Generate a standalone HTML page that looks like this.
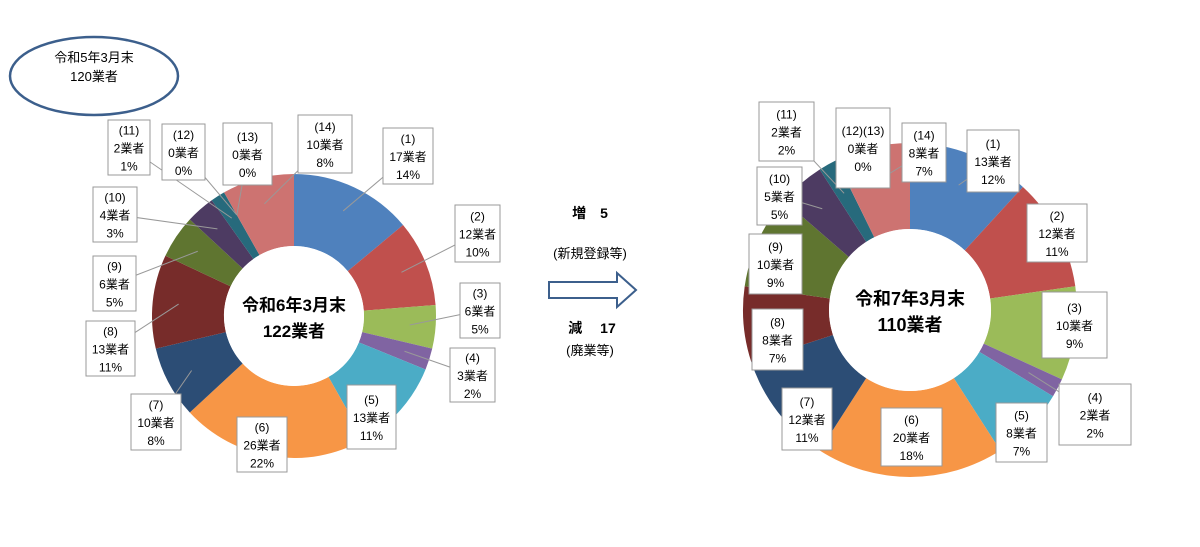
<!DOCTYPE html>
<html><head><meta charset="utf-8">
<style>
body{margin:0;background:#fff;width:1200px;height:542px;overflow:hidden;font-family:"Liberation Sans","Noto Sans CJK JP",sans-serif;}
svg text{font-family:"Liberation Sans","Noto Sans CJK JP",sans-serif;}
</style></head>
<body>
<svg id="s" width="1200" height="542" xmlns="http://www.w3.org/2000/svg">
<ellipse cx="94" cy="76" rx="84" ry="39" fill="#fff" stroke="#3C5F8C" stroke-width="2.5"/>
<text x="94" y="62" font-size="13" text-anchor="middle" fill="#000">令和5年3月末</text>
<text x="94" y="81" font-size="13" text-anchor="middle" fill="#000">120業者</text>
<text x="590" y="218" font-size="14" text-anchor="middle" font-weight="bold">増　5</text>
<text x="590" y="258" font-size="13" text-anchor="middle">(新規登録等)</text>
<path d="M549,282 H617 V273 L636,290 L617,307 V298 H549 Z" fill="#fff" stroke="#3C5F8C" stroke-width="2"/>
<text x="592" y="333" font-size="14" text-anchor="middle" font-weight="bold">減　 17</text>
<text x="590" y="355" font-size="13" text-anchor="middle">(廃業等)</text>
<g id="g"></g>
</svg>
<script>
var cols=["#4F81BD","#C0504D","#9BBB59","#8064A2","#4BACC6","#F79646","#2C4D75","#772C2A","#5F7530","#4D3B62","#276A7C","#C0504D","#4F81BD","#CD7371"];
function donut(cx,cy,R,r,vals,labels,cap1,cap2,fs){
 var tot=vals.reduce((a,b)=>a+b,0),a=-Math.PI/2,out="",mids=[];
 vals.forEach(function(v,i){
  var b=a+v/tot*2*Math.PI;mids.push((a+b)/2);
  if(v>0){var lg=(b-a)>Math.PI?1:0;
  var p=[cx+R*Math.cos(a),cy+R*Math.sin(a),cx+R*Math.cos(b),cy+R*Math.sin(b),cx+r*Math.cos(b),cy+r*Math.sin(b),cx+r*Math.cos(a),cy+r*Math.sin(a)];
  out+='<path d="M'+p[0]+','+p[1]+' A'+R+','+R+' 0 '+lg+' 1 '+p[2]+','+p[3]+' L'+p[4]+','+p[5]+' A'+r+','+r+' 0 '+lg+' 0 '+p[6]+','+p[7]+' Z" fill="'+cols[i]+'"/>';}
  a=b;});
 out+='<circle cx="'+cx+'" cy="'+cy+'" r="'+r+'" fill="#fff"/>';
 labels.forEach(function(L){
  var m=mids[L.i],rr=(R+r)/2+10,px=cx+rr*Math.cos(m),py=cy+rr*Math.sin(m);
  out+='<line x1="'+(L.x+L.w/2)+'" y1="'+(L.y+L.h/2)+'" x2="'+px+'" y2="'+py+'" stroke="#999" stroke-width="1"/>';
 });
 labels.forEach(function(L){
  out+='<rect x="'+L.x+'" y="'+L.y+'" width="'+L.w+'" height="'+L.h+'" fill="#fff" stroke="#999" stroke-width="1"/>';
  var ty=L.y+(L.h-54)/2+14;
  L.t.forEach(function(t,k){out+='<text x="'+(L.x+L.w/2)+'" y="'+(ty+k*18)+'" font-size="12" text-anchor="middle" fill="#000">'+t+'</text>';});
 });
 out+='<text x="'+cx+'" y="'+(cy-5)+'" font-size="'+fs+'" font-weight="bold" text-anchor="middle">'+cap1+'</text>';
 out+='<text x="'+cx+'" y="'+(cy+21)+'" font-size="'+fs+'" font-weight="bold" text-anchor="middle">'+cap2+'</text>';
 return out;}
function B(i,x1,y1,x2,y2,t){return {i:i,x:x1,y:y1,w:x2-x1,h:y2-y1,t:t};}
var h="";
h+=donut(294,316,142,70,[17,12,6,3,13,26,10,13,6,4,2,0,0,10],[
B(10,108,120,150,175,["(11)","2業者","1%"]),
B(11,162,124,205,180,["(12)","0業者","0%"]),
B(12,223,123,272,185,["(13)","0業者","0%"]),
B(13,298,115,352,173,["(14)","10業者","8%"]),
B(0,383,128,433,184,["(1)","17業者","14%"]),
B(1,455,205,500,262,["(2)","12業者","10%"]),
B(2,460,283,500,338,["(3)","6業者","5%"]),
B(3,450,348,495,402,["(4)","3業者","2%"]),
B(4,347,385,396,449,["(5)","13業者","11%"]),
B(5,237,417,287,472,["(6)","26業者","22%"]),
B(6,131,394,181,450,["(7)","10業者","8%"]),
B(7,86,321,135,376,["(8)","13業者","11%"]),
B(8,93,256,136,311,["(9)","6業者","5%"]),
B(9,93,187,137,242,["(10)","4業者","3%"])
],"令和6年3月末","122業者",17);
h+=donut(910,310,167,81,[13,12,10,2,8,20,12,8,10,5,2,0,0,8],[
B(10,759,102,814,161,["(11)","2業者","2%"]),
B(11,836,108,890,188,["(12)(13)","0業者","0%"]),
B(13,902,123,946,182,["(14)","8業者","7%"]),
B(0,967,130,1019,192,["(1)","13業者","12%"]),
B(1,1027,204,1087,262,["(2)","12業者","11%"]),
B(2,1042,292,1107,358,["(3)","10業者","9%"]),
B(3,1059,384,1131,445,["(4)","2業者","2%"]),
B(4,996,403,1047,462,["(5)","8業者","7%"]),
B(5,881,408,942,466,["(6)","20業者","18%"]),
B(6,782,388,832,450,["(7)","12業者","11%"]),
B(7,752,309,803,370,["(8)","8業者","7%"]),
B(8,749,234,802,294,["(9)","10業者","9%"]),
B(9,757,167,802,225,["(10)","5業者","5%"])
],"令和7年3月末","110業者",18);
document.getElementById("g").innerHTML=h;
</script>
</body></html>
